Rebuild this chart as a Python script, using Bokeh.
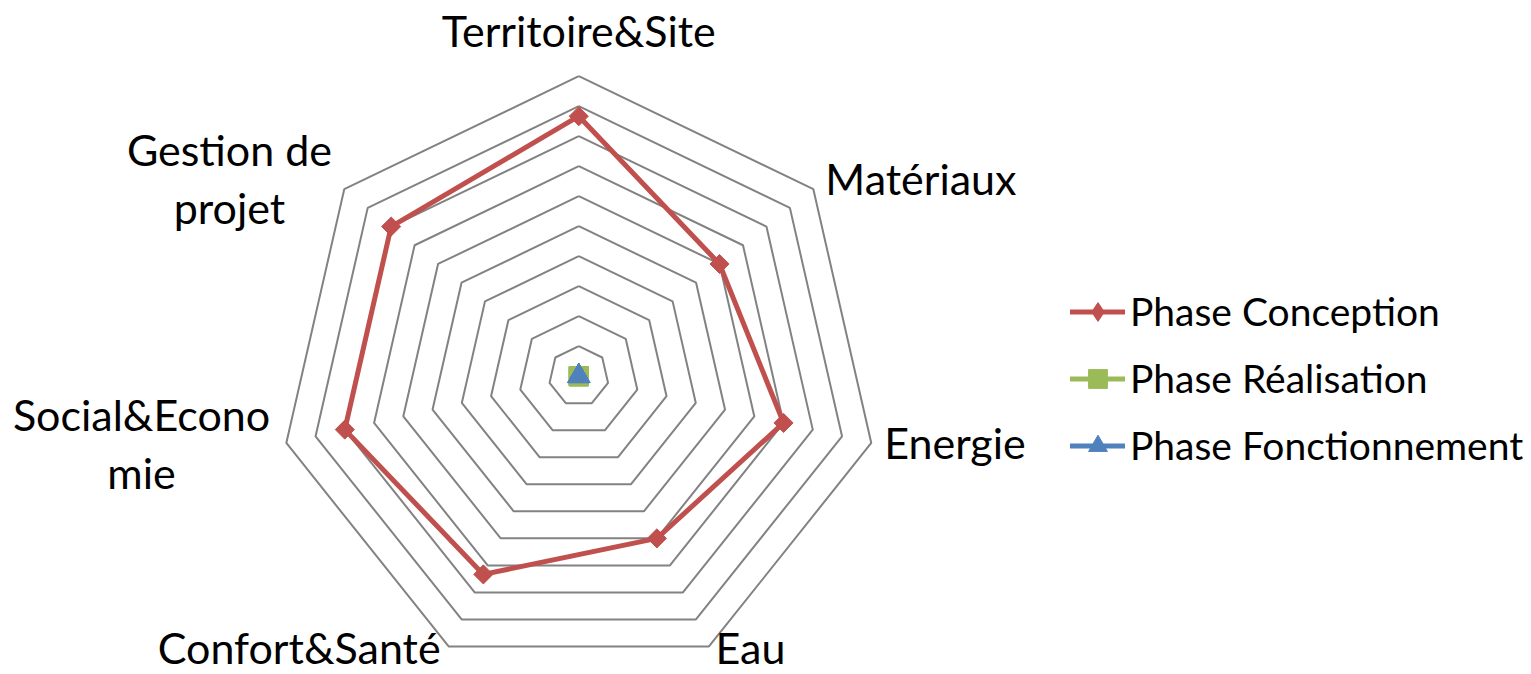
import numpy as np
from bokeh.plotting import figure
from bokeh.models import Range1d, Legend, LegendItem, ColumnDataSource
from bokeh.core.properties import value
from bokeh.embed import file_html
from bokeh.resources import INLINE

# ---------------- data ----------------
categories = ["Territoire&Site", "Matériaux", "Energie", "Eau",
              "Confort&Santé", "Social&Econo\nmie", "Gestion de\nprojet"]
phase_conception = [26, 18, 21, 18, 22, 24, 24]
phase_realisation = [0, 0, 0, 0, 0, 0, 0]
phase_fonctionnement = [0, 0, 0, 0, 0, 0, 0]
series_names = ["Phase Conception", "Phase Réalisation", "Phase Fonctionnement"]
axis_max = 30
axis_step = 3

# ---------------- style ----------------
W, H = 1531, 674
PX = 10.0                 # pixels per value unit
CX, CY = 578.3, 375.7     # chart centre in figure pixels
FONT = "Lato"
LABEL_SIZE = "43px"
LEGEND_SIZE = "39px"
LINE_PITCH = 58
BASE_SHIFT = -16          # correction for the renderer's baseline
GRID_COLOR = "#828282"
RED, GREEN, BLUE = "#C0504D", "#9BBB59", "#4F81BD"
# label placement relative to the outer ring vertex: (dx, dy) px, align
label_style = [(0, -29.7, "center"), (12, 5.4, "left"), (13, 15.5, "left"),
               (6.5, 17, "left"), (-8, 17, "right"), (-144.8, -12.5, "center"),
               (-114.8, -23.6, "center")]

p = figure(width=W, height=H,
           x_range=Range1d(-CX / PX, (W - CX) / PX),
           y_range=Range1d(-(H - CY) / PX, CY / PX),
           output_backend="svg", toolbar_location=None, min_border=0)
p.axis.visible = False
p.grid.visible = False
p.outline_line_color = None
p.background_fill_color = "white"
p.border_fill_color = "white"

n = len(categories)
theta = np.pi / 2 - 2 * np.pi * np.arange(n) / n
cos_t, sin_t = np.cos(theta), np.sin(theta)

# grid rings
ring_vals = np.arange(axis_step, axis_max + axis_step / 2, axis_step)
xs = [list(np.append(r * cos_t, r * cos_t[0])) for r in ring_vals]
ys = [list(np.append(r * sin_t, r * sin_t[0])) for r in ring_vals]
p.multi_line(xs, ys, line_color=GRID_COLOR, line_width=2)

def closed(vals):
    v = np.asarray(vals, dtype=float)
    x = v * cos_t
    y = v * sin_t
    return np.append(x, x[0]), np.append(y, y[0]), x, y

legend_items = []
specs = [(phase_conception, RED, "square", 13.5, np.pi / 4, "diamond"),
         (phase_realisation, GREEN, "square", 19, 0, "square"),
         (phase_fonctionnement, BLUE, "triangle", 22, 0, "triangle")]
for (vals, col, mk, sz, ang, leg_mk), name in zip(specs, series_names):
    lx, ly, mx, my = closed(vals)
    lr = p.line(lx, ly, line_color=col, line_width=5, line_join="round", line_cap="round")
    p.scatter(mx, my, marker=mk, size=sz, angle=ang, fill_color=col, line_color=col)
    # legend-only marker of the same series (its point is not drawn in the plot)
    dr = p.scatter([np.nan], [np.nan], marker=leg_mk, size=sz, fill_color=col, line_color=col)
    legend_items.append(LegendItem(label=name, renderers=[lr, dr]))

# category labels
tx, ty, tt, ta = [], [], [], []
for i, cat in enumerate(categories):
    dx, dy, al = label_style[i]
    vx, vy = axis_max * cos_t[i], axis_max * sin_t[i]
    for j, line in enumerate(cat.split("\n")):
        tx.append(vx + dx / PX)
        ty.append(vy - (dy + BASE_SHIFT + j * LINE_PITCH) / PX)
        tt.append(line)
        ta.append(al)
src = ColumnDataSource(dict(x=tx, y=ty, text=tt, align=ta))
p.text(x="x", y="y", text="text", source=src, text_align="align",
       text_baseline="alphabetic", text_font=value(FONT),
       text_font_size=LABEL_SIZE, text_color="black")

# legend
GH = 47
SP = 20
top = 311 - GH / 2
bottom = top + 3 * GH + 2 * SP
leg = Legend(items=legend_items, location=(1070, H - bottom),
             glyph_width=55, glyph_height=GH, label_height=GH, label_standoff=5,
             padding=0, margin=0, spacing=SP,
             border_line_color=None, background_fill_alpha=0,
             label_text_font=FONT, label_text_font_size=LEGEND_SIZE,
             label_text_color="black")
p.add_layout(leg)

open("out.html", "w").write(file_html(p, INLINE))
